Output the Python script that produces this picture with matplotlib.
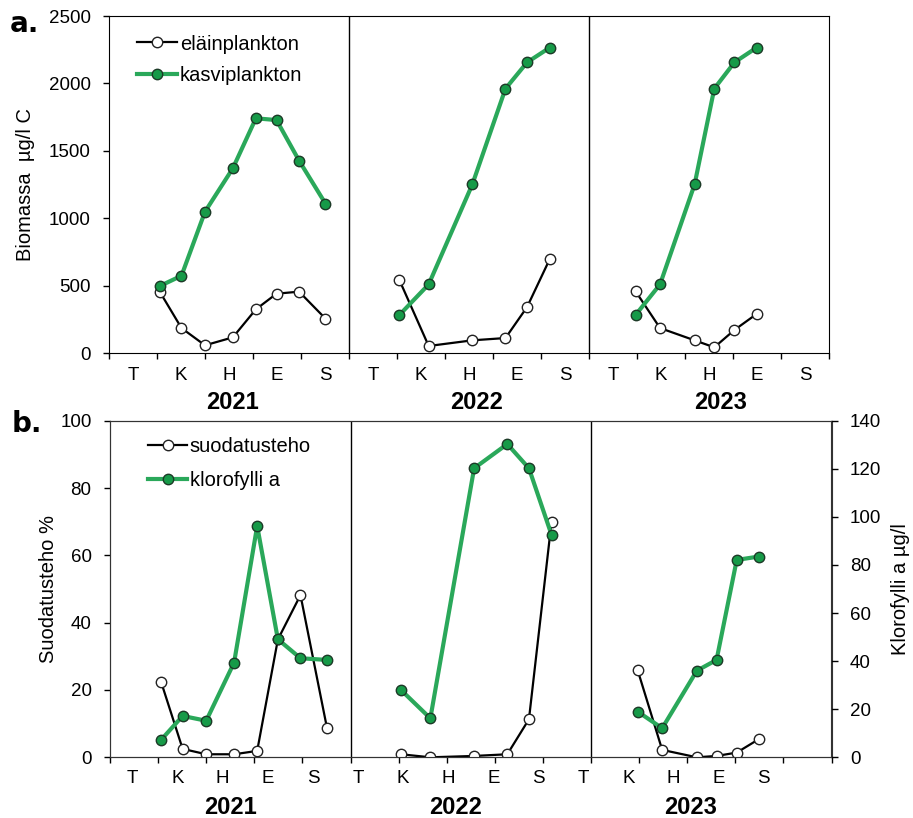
import matplotlib
matplotlib.use('Agg')
import matplotlib.pyplot as plt
from matplotlib.transforms import blended_transform_factory

plt.rcParams['font.family'] = ['Liberation Sans', 'DejaVu Sans']

years = ['2021', '2022', '2023']
months = ['T', 'K', 'H', 'E', 'S']

# sampling times as months from 1 May of each year
x21 = [1.06, 1.51, 2.00, 2.58, 3.06, 3.49, 3.96, 4.51]
x22 = [1.05, 1.66, 2.57, 3.26, 3.71, 4.18]
x23 = [0.97, 1.48, 2.20, 2.61, 3.03, 3.49]

# a. biomass ug/l C
elain21 = [453, 185, 57, 116, 324, 440, 455, 255]
kasvi21 = [497, 573, 1048, 1370, 1741, 1728, 1427, 1108]
elain22 = [541, 52, 94, 111, 341, 695]
kasvi22 = [282, 509, 1251, 1961, 2156, 2265]
elain23 = [458, 185, 94, 42, 171, 289]
kasvi23 = [282, 509, 1251, 1961, 2156, 2265]

# b. filtering rate % and chlorophyll a ug/l
suod21 = [22.5, 2.5, 0.9, 0.9, 1.9, 35, 48.2, 8.8]
klor21 = [7.2, 17.2, 15.2, 39.4, 96.2, 49.1, 41.2, 40.5]
suod22 = [0.9, 0.0, 0.4, 0.9, 11.3, 70]
klor22 = [28, 16.2, 120.2, 130.3, 120.2, 92.5]
suod23 = [25.9, 2.2, 0.0, 0.4, 1.4, 5.4]
klor23 = [19, 12.1, 36, 40.5, 82.1, 83.5]

GL = '#2aa85a'
GF = '#169a48'
GE = '#1c3a27'
FS = 13.5
LFS = 14.5

fig = plt.figure(figsize=(9.13, 8.18), dpi=100)
axa = fig.add_axes([109/913, 1-353/818, 720/913, 337/818])
axb = fig.add_axes([110/913, 1-757.3/818, 721.5/913, 336.6/818])
axb2 = axb.twinx()

blk = dict(color='black', lw=1.6, marker='o', ms=7.5, mfc='white', mec='#222222', mew=1)
grn = dict(color=GL, lw=3, marker='o', ms=7.5, mfc=GF, mec=GE, mew=1)

xs = [x21, x22, x23]
for k, (x, el, ka) in enumerate(zip(xs, [elain21, elain22, elain23], [kasvi21, kasvi22, kasvi23])):
    xx = [5 * k + v for v in x]
    h1, = axa.plot(xx, el, zorder=3, **blk)
    h2, = axa.plot(xx, ka, zorder=4, **grn)
axa.legend([h1, h2], ['eläinplankton', 'kasviplankton'], loc='upper left',
           bbox_to_anchor=(0.039, 0.945), frameon=False, handlelength=2.0,
           handletextpad=0.12, labelspacing=0.62, borderpad=0, borderaxespad=0,
           fontsize=LFS)

for k, (x, su, kl) in enumerate(zip(xs, [suod21, suod22, suod23], [klor21, klor22, klor23])):
    xx = [5 * k + v for v in x]
    h3, = axb.plot(xx, su, zorder=3, **blk)
    h4, = axb2.plot(xx, kl, zorder=4, **grn)
axb2.legend([h3, h4], ['suodatusteho', 'klorofylli a'], loc='upper left',
            bbox_to_anchor=(0.0527, 0.951), frameon=False, handlelength=1.95,
            handletextpad=0.12, labelspacing=0.72, borderpad=0, borderaxespad=0,
            fontsize=LFS)

# axes formatting
for ax in (axa, axb):
    ax.set_xlim(0, 15)
    ax.set_xticks(range(16))
    ax.set_xticklabels([])
    ax.tick_params(axis='x', which='major', direction='out', length=4, width=1)
    ax.tick_params(axis='y', direction='out', length=4.3, width=1, pad=9, labelsize=FS)
    ax.axvline(5, color='black', lw=1)
    ax.axvline(10, color='black', lw=1)
axa.tick_params(axis='x', which='minor', length=0, pad=10, labelsize=FS)
axb.tick_params(axis='x', which='minor', length=0, pad=9, labelsize=FS)

axa.set_xticks([i + 0.5 for i in range(15)], minor=True)
axa.set_xticklabels(months * 3, minor=True)
axb.set_xticks([(i + 0.5) * 15 / 16 for i in range(15)], minor=True)
axb.set_xticklabels(months * 3, minor=True)

axa.set_ylim(0, 2500)
axa.set_yticks(range(0, 2501, 500))
axb.set_ylim(0, 100)
axb.set_yticks(range(0, 101, 20))
axb2.set_ylim(0, 140)
axb2.set_yticks(range(0, 141, 20))
axb2.tick_params(axis='y', direction='out', length=4.8, width=1, pad=8.4, labelsize=FS)

for ax in (axb, axb2):
    for s in ax.spines.values():
        s.set_color('#333333')

axa.set_ylabel('Biomassa  µg/l C', fontsize=LFS)
axa.yaxis.set_label_coords(-0.103, 0.5)
axb.set_ylabel('Suodatusteho %', fontsize=LFS)
axb.yaxis.set_label_coords(-0.072, 0.5)
axb2.set_ylabel('Klorofylli a µg/l', fontsize=LFS)
axb2.yaxis.set_label_coords(1.083, 0.5)

yfont = dict(fontsize=17, fontweight='bold', ha='center', va='center',
             family=['Liberation Sans Narrow', 'Liberation Sans'])
ta = blended_transform_factory(axa.transData, axa.transAxes)
for x, y in zip([2.58, 7.65, 12.75], years):
    axa.text(x, -0.147, y, transform=ta, **yfont)
tb = blended_transform_factory(axb.transData, axb.transAxes)
for x, y in zip([2.51, 7.18, 12.08], years):
    axb.text(x, -0.15, y, transform=tb, **yfont)

fig.text(10/913, 1-31.7/818, 'a.', fontsize=20, fontweight='bold', family='DejaVu Sans', va='baseline')
fig.text(12/913, 1-431.7/818, 'b.', fontsize=20, fontweight='bold', family='DejaVu Sans', va='baseline')

fig.savefig('out.png', dpi=100)
